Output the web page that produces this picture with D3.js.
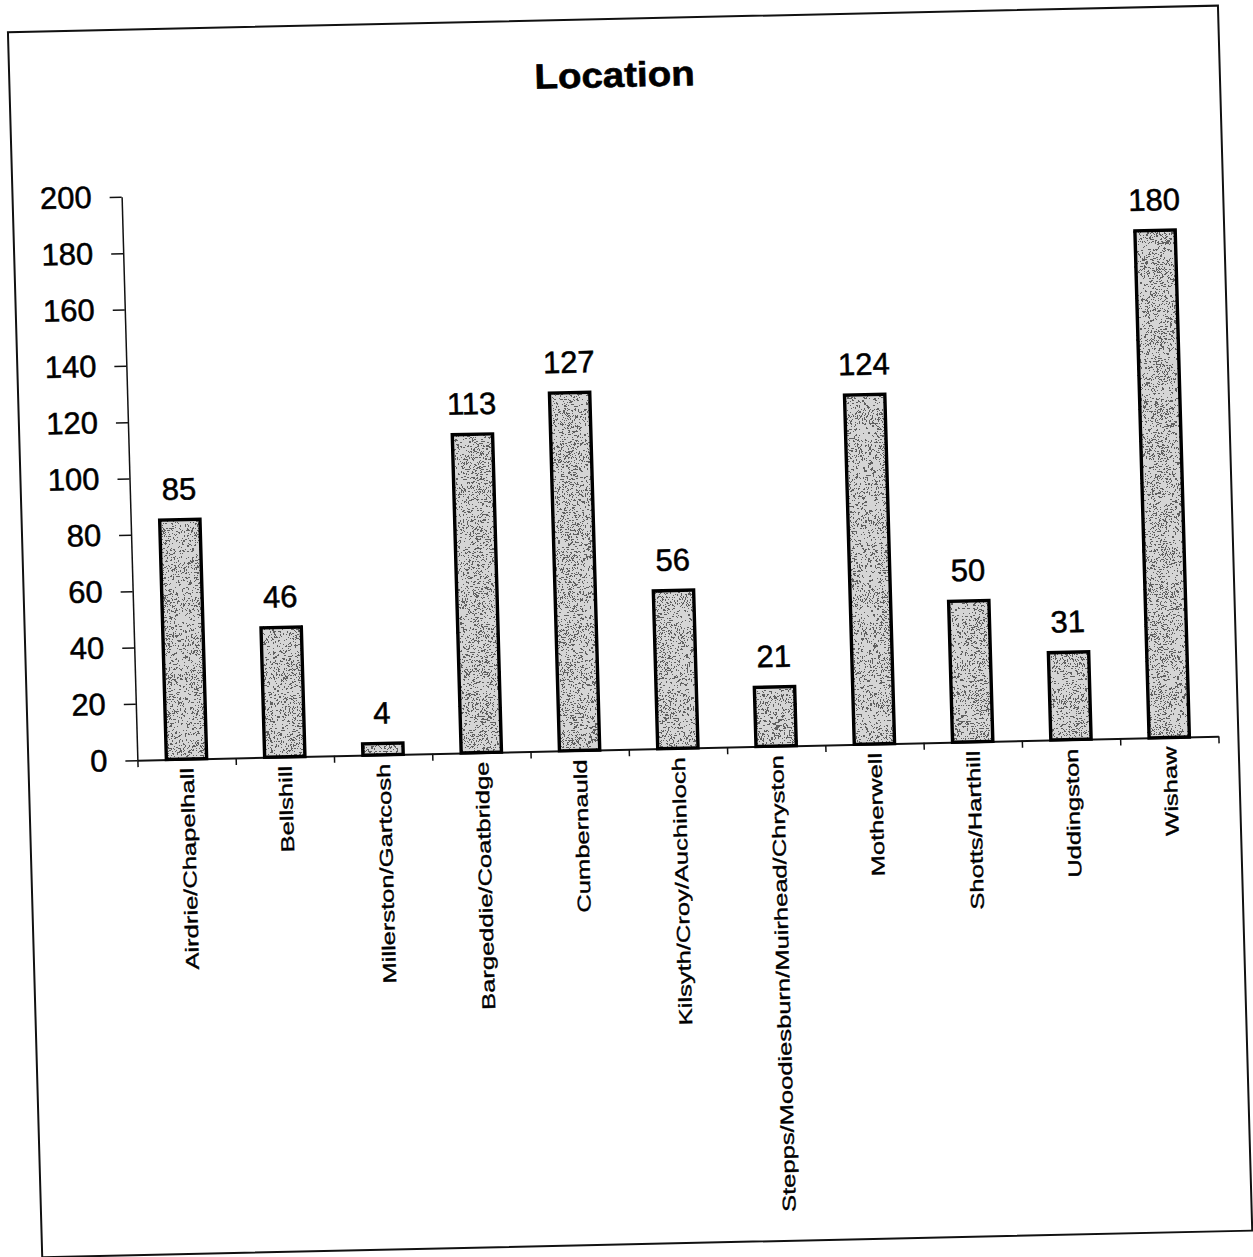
<!DOCTYPE html>
<html><head><meta charset="utf-8">
<script src="https://cdn.jsdelivr.net/npm/d3@7"></script>
<style>body{margin:0;background:#fff} svg{display:block}</style>
</head><body>
<svg id="c" width="1253" height="1257"></svg>
<script>
const title = "Location";
const categories = ["Airdrie/Chapelhall","Bellshill","Millerston/Gartcosh","Bargeddie/Coatbridge","Cumbernauld","Kilsyth/Croy/Auchinloch","Stepps/Moodiesburn/Muirhead/Chryston","Motherwell","Shotts/Harthill","Uddingston","Wishaw"];
const values = [85,46,4,113,127,56,21,124,50,31,180];
const yTicks = [0,20,40,60,80,100,120,140,160,180,200];

const FONT = "Arial, 'Liberation Sans', sans-serif";
const svg = d3.select("#c");
const defs = svg.append("defs");
const f = defs.append("filter").attr("id","grain").attr("x",0).attr("y",0).attr("width",1).attr("height",1)
  .attr("filterUnits","objectBoundingBox");
f.append("feTurbulence").attr("type","fractalNoise").attr("baseFrequency",1.4).attr("numOctaves",1).attr("seed",7).attr("result","n");
f.append("feColorMatrix").attr("in","n").attr("type","matrix")
  .attr("values","0 0 0 0 0  0 0 0 0 0  0 0 0 0 0  1 0 0 0 0").attr("result","a");
const ct = f.append("feComponentTransfer").attr("in","a");
ct.append("feFuncA").attr("type","discrete")
  .attr("tableValues","0 0 0 0 0 0 0 0 0 0 0 0.55 0.55 0.55 0.55 0.55 0.55 0.55 0.55 0.55");

// scanned page is slightly rotated/skewed
const g = svg.append("g").attr("transform","matrix(1,-0.022,0.028,1,-17.6,13.8)");

// page frame
g.append("rect").attr("x",25).attr("y",19).attr("width",1210).attr("height",1225)
  .attr("fill","none").attr("stroke","#111").attr("stroke-width",2);

g.append("text").attr("transform","translate(630,87) scale(1.1,1)")
  .attr("text-anchor","middle").attr("font-family",FONT).attr("font-weight","bold")
  .attr("font-size",35).attr("fill","#000").attr("stroke","#000").attr("stroke-width",0.6).text(title);

const x0 = 134, x1 = 1215;
const y = d3.scaleLinear().domain([0,200]).range([749.3,186]);
const xb = d3.scaleBand().domain(categories).range([x0,x1]).paddingInner(0.59).paddingOuter(0.295);
const xc = d3.scaleBand().domain(categories).range([x0,x1]).padding(0);
const xi = d3.scaleLinear().domain([0,categories.length]).range([x0,x1]);

// y axis
const ya = g.append("g").attr("transform",`translate(${x0},0)`)
  .call(d3.axisLeft(y).tickValues(yTicks).tickSize(12).tickSizeOuter(0).tickPadding(18));
ya.select(".domain").attr("stroke","#111").attr("stroke-width",1.5);
ya.selectAll(".tick line").attr("stroke","#111").attr("stroke-width",1.5);
ya.selectAll(".tick text").attr("font-family",FONT).attr("font-size",31).attr("fill","#000")
  .attr("stroke","#000").attr("stroke-width",0.5);

// x axis (ticks at category boundaries)
const xa = g.append("g").attr("transform",`translate(0,${y(0)})`)
  .call(d3.axisBottom(xi).tickValues(d3.range(categories.length+1)).tickSize(7).tickSizeOuter(0).tickFormat(""));
xa.select(".domain").attr("stroke","#111").attr("stroke-width",2);
xa.selectAll(".tick line").attr("stroke","#111").attr("stroke-width",1.5);

// bars
const bars = g.append("g").selectAll("g").data(categories).join("g");
bars.append("rect").attr("x",d=>xb(d)).attr("y",(d,i)=>y(values[i]))
  .attr("width",xb.bandwidth()).attr("height",(d,i)=>y(0)-y(values[i])).attr("fill","#d5d5d5");
bars.append("rect").attr("x",d=>xb(d)).attr("y",(d,i)=>y(values[i]))
  .attr("width",xb.bandwidth()).attr("height",(d,i)=>y(0)-y(values[i])).attr("fill","#000").attr("filter","url(#grain)");
bars.append("rect").attr("x",d=>xb(d)).attr("y",(d,i)=>y(values[i]))
  .attr("width",xb.bandwidth()).attr("height",(d,i)=>y(0)-y(values[i]))
  .attr("fill","none").attr("stroke","#000").attr("stroke-width",3.4);

// value labels
g.append("g").selectAll("text").data(categories).join("text")
  .attr("x",d=>xb(d)+xb.bandwidth()/2).attr("y",(d,i)=>y(values[i])-20)
  .attr("text-anchor","middle").attr("font-family",FONT).attr("font-size",31).attr("fill","#000")
  .attr("stroke","#000").attr("stroke-width",0.5)
  .text((d,i)=>values[i]);

// category labels
g.append("g").selectAll("text").data(categories).join("text")
  .attr("transform",d=>`translate(${xc(d)+xc.bandwidth()/2},${y(0)+9}) rotate(-90) scale(1.38,1)`)
  .attr("dy","0.36em").attr("text-anchor","end").attr("font-family",FONT).attr("font-size",18.5).attr("fill","#000")
  .attr("stroke","#000").attr("stroke-width",0.35)
  .text(d=>d);
</script>
</body></html>
